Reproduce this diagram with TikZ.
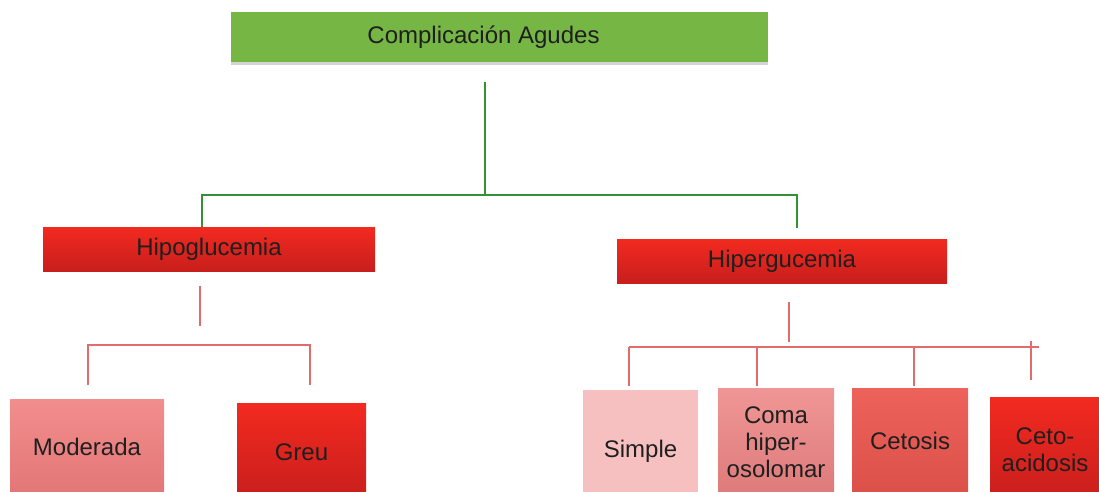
\documentclass[tikz,border=0pt]{standalone}
\usepackage{fontspec}
\setmainfont{Liberation Sans}
\usetikzlibrary{positioning, calc, shadows}

\definecolor{topgreen}{RGB}{118,182,68}
\definecolor{linegreen}{RGB}{52,146,52}
\definecolor{linered}{RGB}{226,108,108}
\definecolor{redtop}{RGB}{242,42,32}
\definecolor{redbot}{RGB}{200,30,28}
\definecolor{modtop}{RGB}{243,142,142}
\definecolor{modbot}{RGB}{226,118,118}
\definecolor{simpfill}{RGB}{247,192,192}
\definecolor{comatop}{RGB}{240,150,150}
\definecolor{comabot}{RGB}{222,122,122}
\definecolor{cettop}{RGB}{238,98,92}
\definecolor{cetbot}{RGB}{220,80,74}

\begin{document}
\begin{tikzpicture}[
  x=1pt, y=-1pt,
  font=\fontsize{24}{27}\selectfont,
  box/.style      = {rectangle, inner sep=0pt, align=center, text=black!88},
  red box/.style  = {box, top color=redtop, bottom color=redbot},
  gline/.style    = {draw=linegreen, line width=1.3pt},
  rline/.style    = {draw=linered, line width=1.3pt},
]
\path[use as bounding box, clip] (0,0) rectangle (1099,492);

% =============================================================
% Level 1 -- root
% =============================================================
\node[box, fill=topgreen, minimum width=537pt, minimum height=50pt,
      drop shadow={shadow xshift=0pt, shadow yshift=-3pt, opacity=0.35}]
      (root) at (499.5,37) {\hspace*{-32pt}Complicación Agudes};

% =============================================================
% Level 2 -- two branches
% =============================================================
\node[red box, minimum width=332pt, minimum height=44pt] (hipo)  at (209,249) {Hipoglucemia};
\node[red box, minimum width=330pt, minimum height=44pt] (hiper) at (782,261) {Hipergucemia};

% green tree: stem, bar and drops
\coordinate (stem top) at (485,82);
\coordinate (stem bot) at (485,195);
\coordinate (gbar l)   at (202,195);
\coordinate (gbar r)   at (797,195);
\coordinate (gdrop r)  at (797,228);
\draw[gline] (stem top) -- (stem bot);
\draw[gline] (hipo.north -| gbar l) -- (gbar l) -- (gbar r) -- (gdrop r);

% =============================================================
% Level 3 -- Hipoglucemia
% =============================================================
\node[box, top color=modtop, bottom color=modbot, minimum width=154pt, minimum height=96pt]
      (moder) at (87,447) {Moderada};
\node[red box, minimum width=129pt, minimum height=98pt] (greu) at (301.5,452) {Greu};

\coordinate (hstem top) at (200,286);
\coordinate (hstem bot) at (200,326);
\coordinate (hbar l)    at (88,345);
\coordinate (hbar r)    at (310,345);
\draw[rline] (hstem top) -- (hstem bot);
\draw[rline] ($(hbar l)+(0,40)$) -- (hbar l) -- (hbar r) -- ($(hbar r)+(0,40)$);

% =============================================================
% Level 3 -- Hipergucemia
% =============================================================
\node[box, fill=simpfill, minimum width=115pt, minimum height=122pt] (simple) at (640.5,451) {Simple};
\node[box, top color=comatop, bottom color=comabot, minimum width=116pt, minimum height=108pt]
      (coma) at (776,442) {Coma\\hiper-\\osolomar};
\node[box, top color=cettop, bottom color=cetbot, minimum width=116pt, minimum height=106pt]
      (cetosis) at (910,441) {Cetosis};
\node[red box, minimum width=110pt, minimum height=106pt] (ceto) at (1045,450) {Ceto-\\acidosis};

\coordinate (rstem top) at (789,302);
\coordinate (rstem bot) at (789,342);
\coordinate (rbar l)    at (629,347);
\coordinate (rbar r)    at (1039,347);
\draw[rline] (rstem top) -- (rstem bot);
\draw[rline] (rbar l) -- (rbar r);
\foreach \x in {629,757,914} {
  \draw[rline] (\x,347) -- (\x,386);
}
\coordinate (cdrop top) at (1031,341);
\coordinate (cdrop bot) at (1031,380);
\draw[rline] (cdrop top) -- (cdrop bot);

\end{tikzpicture}
\end{document}
